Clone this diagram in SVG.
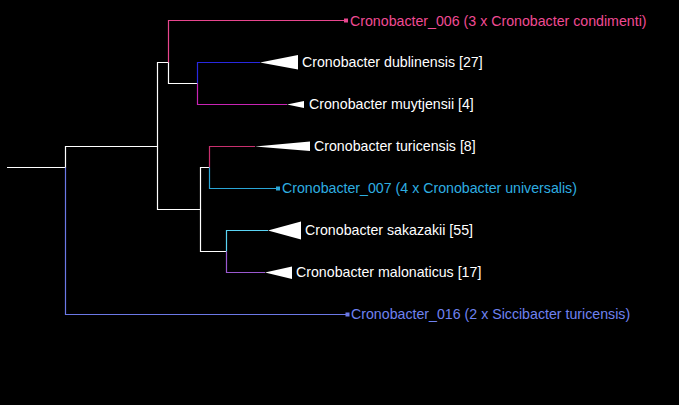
<svg xmlns="http://www.w3.org/2000/svg" width="679" height="405" viewBox="0 0 679 405">
<style>
.l{fill:none;stroke-width:1.2}
.w{stroke:#ffffff}
.t{font-family:"Liberation Sans",Arial,sans-serif;font-size:14.2px}
.tri{fill:#ffffff}
</style>
<rect width="679" height="405" fill="#000000"/>
<g id="connectors">
<path class="l w" d="M7,167.5H65.5V146.5H157.5V62.5H168.5V83.5H197.5"/>
<path class="l w" d="M157.5,146.5V209.5H200.5V167.5H209.5"/>
<path class="l w" d="M200.5,209.5V251.5H226.5"/>
<path class="l" stroke="#6b78e6" d="M65.5,167.5V314.5H346"/>
<path class="l" stroke="#e8468e" d="M168.5,62.5V20.5H345"/>
<path class="l" stroke="#2828e0" d="M197.5,83.5V62.5H260"/>
<path class="l" stroke="#c824b4" d="M197.5,83.5V104.5H287"/>
<path class="l" stroke="#c8306e" d="M209.5,167.5V146.5H255"/>
<path class="l" stroke="#2aa6d6" d="M209.5,167.5V188.5H277"/>
<path class="l" stroke="#5ad4f4" d="M226.5,251.5V230.5H268"/>
<path class="l" stroke="#9a58d0" d="M226.5,251.5V272.5H265"/>
</g>
<g id="n006">
<rect x="344" y="18.5" width="4" height="4" fill="#e8468e"/>
<text class="t" x="350" y="25.8" fill="#f04b94">Cronobacter_006 (3 x Cronobacter condimenti)</text>
</g>
<g id="dublinensis">
<polygon class="tri" points="260,62.5 298,55 298,69.5"/>
<text class="t" x="302" y="67.3" fill="#ffffff">Cronobacter dublinensis [27]</text>
</g>
<g id="muytjensii">
<polygon class="tri" points="287,104.5 304,101 304,108"/>
<text class="t" x="309" y="109.3" fill="#ffffff">Cronobacter muytjensii [4]</text>
</g>
<g id="turicensis">
<polygon class="tri" points="255,146.5 310,141.5 310,151"/>
<text class="t" x="314" y="151.3" fill="#ffffff">Cronobacter turicensis [8]</text>
</g>
<g id="n007">
<rect x="276" y="186.5" width="4" height="4" fill="#2aa6d6"/>
<text class="t" x="282" y="193.3" fill="#2eaee0">Cronobacter_007 (4 x Cronobacter universalis)</text>
</g>
<g id="sakazakii">
<polygon class="tri" points="268,230.5 301,221.5 301,239.5"/>
<text class="t" x="305" y="235.3" fill="#ffffff">Cronobacter sakazakii [55]</text>
</g>
<g id="malonaticus">
<polygon class="tri" points="265,272.5 292,266.5 292,279"/>
<text class="t" x="296" y="277.3" fill="#ffffff">Cronobacter malonaticus [17]</text>
</g>
<g id="n016">
<rect x="345.5" y="312.5" width="4" height="4" fill="#6b78e6"/>
<text class="t" x="351" y="319.3" fill="#6f82f0">Cronobacter_016 (2 x Siccibacter turicensis)</text>
</g>
</svg>
